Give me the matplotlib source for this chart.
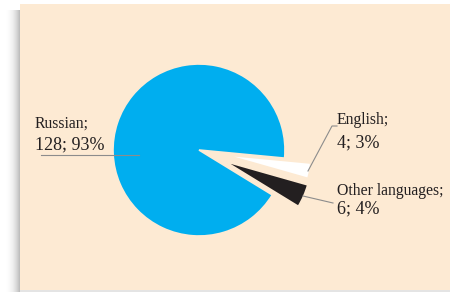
import numpy as np
import matplotlib
matplotlib.use("Agg")
import matplotlib.pyplot as plt
from matplotlib.patches import Rectangle

plt.rcParams["font.family"] = ["Liberation Serif", "DejaVu Serif"]

# data
languages = ["Russian", "English", "Other languages"]
counts = [128, 4, 6]
shares = ["93%", "3%", "4%"]
colors = ["#00AEEF", "#FFFFFF", "#231F20"]
explode = [0, 0.31, 0.33]

W, H = 450, 292
fig = plt.figure(figsize=(W / 100, H / 100), dpi=100)
fig.patch.set_facecolor("white")

# beige panel + soft shadow on the left
fig.add_artist(Rectangle((20 / W, 2 / H), 1, 286 / H, transform=fig.transFigure,
                         facecolor="#FDEAD3", edgecolor="none", zorder=0))
sh = fig.add_axes([6 / W, 0, 14 / W, 282 / H], zorder=-1)
grad = np.linspace(0, 1, 64).reshape(1, -1) ** 1.5
sh.imshow(grad, cmap="Greys", vmin=0, vmax=2.6, aspect="auto", extent=(0, 1, 0, 1))
sh.axis("off")
fig.add_artist(Rectangle((20 / W, 0), 1, 2 / H, transform=fig.transFigure,
                         facecolor="#E4E4E4", edgecolor="none", zorder=0))

# pie centre at pixel (199,150), radius 86 px
cx, cy, r = 199, 150, 86
ax = fig.add_axes([0, 0, 1, 1])
ax.pie(counts, colors=colors, explode=explode, startangle=-31.5, counterclock=False,
       radius=1, center=(0, 0),
       wedgeprops=dict(edgecolor="#FDEAD3", linewidth=1.2))
ax.set_xlim(-cx / r, (W - cx) / r)
ax.set_ylim((cy - H) / r, cy / r)
ax.set_aspect("equal")
ax.axis("off")
ax.patch.set_alpha(0)

def p(x, y):
    return (x - cx) / r, (cy - y) / r

txt = "#231F20"
line = dict(color="#8C8C8C", linewidth=0.8)

# Russian
ax.plot(*zip(p(41, 155), p(139, 155)), **line)
ax.text(*p(35, 128), languages[0] + ";", fontsize=11.3, color=txt, va="baseline")
ax.text(*p(35, 149), f"{counts[0]}; {shares[0]}", fontsize=13, color=txt, va="baseline")

# English
ax.plot(*zip(p(308, 171), p(332, 126), p(337, 126)), **line)
ax.text(*p(337, 124), languages[1] + ";", fontsize=11.3, color=txt, va="baseline")
ax.text(*p(337, 147), f"{counts[1]}; {shares[1]}", fontsize=13, color=txt, va="baseline")

# Other languages
ax.plot(*zip(p(303, 196), p(333, 203)), **line)
ax.text(*p(337, 195), languages[2] + ";", fontsize=11.3, color=txt, va="baseline")
ax.text(*p(337, 213), f"{counts[2]}; {shares[2]}", fontsize=13, color=txt, va="baseline")

fig.savefig("out.png", dpi=100)
